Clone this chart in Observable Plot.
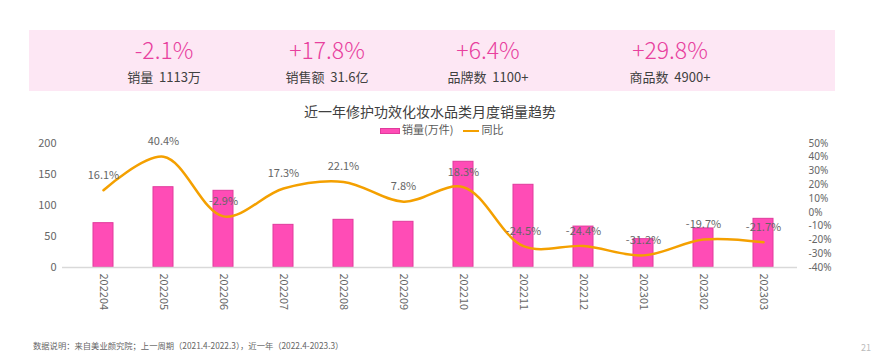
<!DOCTYPE html>
<html><head><meta charset="utf-8">
<script src="https://cdn.jsdelivr.net/npm/d3@7"></script>
<script src="https://cdn.jsdelivr.net/npm/@observablehq/plot@0.6"></script>
<style>
html,body{margin:0;padding:0;background:#fff;width:874px;height:356px;overflow:hidden;font-family:"Noto Sans CJK SC","Noto Sans",sans-serif;}
.abs{position:absolute;}
#band{left:29px;top:30px;width:806px;height:61px;background:#fde7f4;}
.stat{position:absolute;width:200px;text-align:center;white-space:pre;}
.pct{font-size:23px;color:#e8409e;line-height:26px;top:36px;font-weight:300;}
.lab{font-size:13px;color:#404040;line-height:16px;top:69px;}
#title{left:230px;width:400px;top:101px;text-align:center;font-size:14px;color:#404040;line-height:20px;}
#legend{top:122px;left:380px;font-size:11px;color:#595959;line-height:14px;white-space:nowrap;}
#chart{left:0;top:100px;}
#foot{left:33px;top:339px;font-size:8.3px;color:#666;line-height:12px;white-space:nowrap;}
#page{left:861px;top:342px;font-size:9px;color:#bbb;line-height:12px;}
</style></head>
<body>
<div id="band" class="abs"></div>
<div id="stats"></div>
<div id="title" class="abs"></div>
<div id="legend" class="abs"></div>
<div id="chart" class="abs"></div>
<div id="foot" class="abs"></div>
<div id="page" class="abs">21</div>
<script>
// ---- data ----
const months = ["202204","202205","202206","202207","202208","202209","202210","202211","202212","202301","202302","202303"];
const sales = [71.5, 129.5, 123.7, 68.8, 76.9, 73.7, 170.5, 133.4, 66, 45.7, 63, 78.5];
const yoy = [16.1, 40.4, -2.9, 17.3, 22.1, 7.8, 18.3, -24.5, -24.4, -31.2, -19.7, -21.7];
const leftTicks = [0, 50, 100, 150, 200];
const rightTicks = [50, 40, 30, 20, 10, 0, -10, -20, -30, -40];
const statPcts = ["-2.1%", "+17.8%", "+6.4%", "+29.8%"];
const statLabels = ["销量  1113万", "销售额  31.6亿", "品牌数  1100+", "商品数  4900+"];
const titleText = "近一年修护功效化妆水品类月度销量趋势";
const seriesNames = ["销量(万件)", "同比"];
const footText = "数据说明：来自美业颜究院；上一周期（2021.4-2022.3），近一年（2022.4-2023.3）";

// ---- header ----
const statCenters = [164, 327, 488, 670];
const statsEl = document.getElementById("stats");
statPcts.forEach((p, i) => {
  const a = document.createElement("div"); a.className = "stat pct"; a.style.left = (statCenters[i] - 100) + "px"; a.textContent = p; statsEl.appendChild(a);
  const b = document.createElement("div"); b.className = "stat lab"; b.style.left = (statCenters[i] - 100) + "px"; b.textContent = statLabels[i]; statsEl.appendChild(b);
});
document.getElementById("title").textContent = titleText;
document.getElementById("legend").innerHTML =
  `<span style="display:inline-block;width:18px;height:4px;background:#ff4cb6;border:1px solid #e03a9c;vertical-align:middle;margin-right:2px"></span>${seriesNames[0]}` +
  `<span style="display:inline-block;width:16px;height:2.5px;background:#f4a000;vertical-align:middle;margin:0 2px 0 10px"></span>${seriesNames[1]}`;
document.getElementById("foot").textContent = footText;

// ---- chart ----
const data = months.map((m, i) => ({month: m, sales: sales[i], yoy: yoy[i]}));
const pctToY = p => (p + 40) * 200 / 90;
const rightMap = new Map(rightTicks.map(t => [pctToY(t), t + "%"]));

const chart = Plot.plot({
  width: 874,
  height: 235,
  marginTop: 43,
  marginBottom: 68,
  marginLeft: 62,
  marginRight: 77,
  style: {fontFamily: "'Noto Sans CJK SC','Noto Sans',sans-serif", fontSize: "11px", color: "#666", background: "transparent", overflow: "visible"},
  x: {type: "band", domain: months, range: [64, 802.6], paddingInner: 0.671, paddingOuter: 0.417},
  y: {domain: [0, 200]},
  marks: [
    Plot.barY(data, {x: "month", y: "sales", fill: "#ff4cb6", stroke: "#e03a9c", strokeWidth: 1}),
    Plot.ruleY([0], {stroke: "#d9d9d9", strokeWidth: 1.5}),
    Plot.line(data, {x: "month", y: d => pctToY(d.yoy), curve: "catmull-rom", stroke: "#f4a000", strokeWidth: 2.5}),
    Plot.text(data, {x: "month", y: d => pctToY(d.yoy), text: d => d.yoy.toFixed(1) + "%", dy: -15, fill: "#666", fontSize: 11}),
    Plot.axisX({tickRotate: 90, tickSize: 0, tickPadding: 6, label: null, fill: "#666", fontSize: 11}),
    Plot.axisY(leftTicks, {anchor: "left", tickSize: 0, tickPadding: 6, label: null, fill: "#666", fontSize: 11}),
    Plot.axisY(rightTicks.map(pctToY), {anchor: "right", tickSize: 0, tickPadding: 11, label: null, tickFormat: d => rightMap.get(d), fill: "#666", fontSize: 10, fontFamily: "'Noto Sans',sans-serif"})
  ]
});
document.getElementById("chart").appendChild(chart);
</script>
</body></html>
